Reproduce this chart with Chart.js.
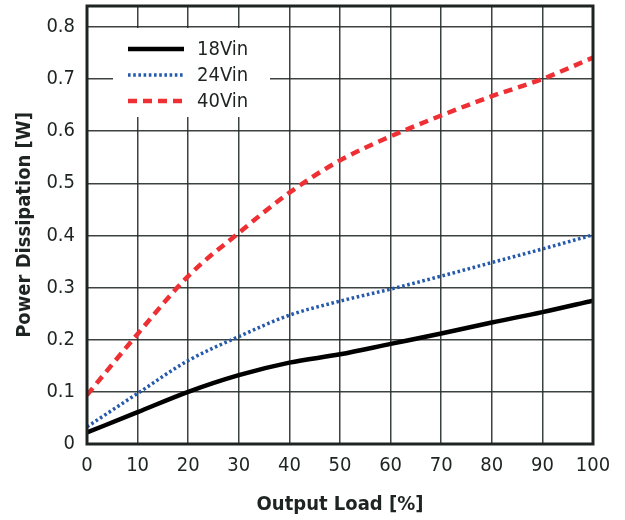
<!DOCTYPE html>
<html>
<head>
<meta charset="utf-8">
<script src="https://cdn.jsdelivr.net/npm/chart.js@4.4.1/dist/chart.umd.min.js"></script>
<style>
  html, body { margin: 0; padding: 0; background: #fff; }
  #wrap { width: 625px; height: 520px; }
</style>
</head>
<body>
<div id="wrap"><canvas id="pdChart" width="625" height="520"></canvas></div>
<script>
// Data
const loadPct = [0, 10, 20, 30, 40, 50, 60, 70, 80, 90, 100];
const vin18 = [0.022, 0.061, 0.100, 0.132, 0.156, 0.172, 0.192, 0.212, 0.233, 0.253, 0.275];
const vin24 = [0.033, 0.097, 0.160, 0.206, 0.247, 0.274, 0.297, 0.322, 0.348, 0.374, 0.401];
const vin40 = [0.094, 0.211, 0.322, 0.405, 0.482, 0.544, 0.590, 0.630, 0.667, 0.700, 0.741];
const seriesNames = ['18Vin', '24Vin', '40Vin'];
const yTicks = [0, 0.1, 0.2, 0.3, 0.4, 0.5, 0.6, 0.7, 0.8];
const xTicks = [0, 10, 20, 30, 40, 50, 60, 70, 80, 90, 100];

const FONT = "'Liberation Sans Narrow', 'DejaVu Sans Condensed', 'Liberation Sans', sans-serif";
const inkColor = '#1e2421';

function toPoints(ys) {
    return loadPct.map((x, i) => ({ x: x, y: ys[i] }));
}

// Legend inside the plot with a white box, plus the dark frame
const framePlugin = {
    id: 'frameAndLegend',
    afterDatasetsDraw(chart) {
        const ctx = chart.ctx;
        const area = chart.chartArea;
        ctx.save();

        // legend box
        const bx = area.left + 26, by = area.top + 22;
        ctx.fillStyle = '#fff';
        ctx.fillRect(bx, by, 157, 89);
        ctx.font = '20px ' + FONT;
        ctx.textBaseline = 'middle';
        chart.data.datasets.forEach((ds, i) => {
            const y = area.top + 43 + i * 26;
            ctx.strokeStyle = ds.borderColor;
            ctx.lineWidth = ds.borderWidth;
            ctx.setLineDash(ds.borderDash || []);
            ctx.beginPath();
            ctx.moveTo(area.left + 41, y);
            ctx.lineTo(area.left + 97, y);
            ctx.stroke();
            ctx.setLineDash([]);
            ctx.fillStyle = inkColor;
            ctx.fillText(ds.label, area.left + 110, y + 1);
        });

        // frame
        ctx.strokeStyle = inkColor;
        ctx.lineWidth = 3;
        ctx.strokeRect(area.left, area.top, area.right - area.left, area.bottom - area.top);
        ctx.restore();
    }
};

const ctx = document.getElementById('pdChart').getContext('2d');
const pdChart = new Chart(ctx, {
    type: 'line',
    data: {
        datasets: [{
            label: seriesNames[0],
            data: toPoints(vin18),
            borderColor: '#000000',
            borderWidth: 4.5,
            pointRadius: 0,
            cubicInterpolationMode: 'monotone'
        }, {
            label: seriesNames[1],
            data: toPoints(vin24),
            borderColor: '#2459ab',
            borderWidth: 3.5,
            borderDash: [2.6, 2.6],
            pointRadius: 0,
            cubicInterpolationMode: 'monotone'
        }, {
            label: seriesNames[2],
            data: toPoints(vin40),
            borderColor: '#ee2f33',
            borderWidth: 4.5,
            borderDash: [9, 6],
            pointRadius: 0,
            cubicInterpolationMode: 'monotone'
        }]
    },
    options: {
        responsive: false,
        animation: false,
        layout: { padding: { top: 6, right: 32, left: 0, bottom: 0 } },
        plugins: {
            legend: { display: false },
            tooltip: { enabled: false }
        },
        scales: {
            x: {
                type: 'linear',
                min: 0,
                max: 100,
                afterBuildTicks: (scale) => { scale.ticks = xTicks.map(v => ({ value: v })); },
                afterFit: (scale) => {
                    scale.height = 76;
                    scale.paddingLeft = 0;
                    scale.paddingRight = 0;
                },
                grid: { color: 'rgba(38,46,42,0.9)', lineWidth: 1.5, drawTicks: false },
                border: { display: false },
                ticks: {
                    padding: 10,
                    color: inkColor,
                    font: { family: FONT, size: 20 },
                    maxRotation: 0
                },
                title: {
                    display: true,
                    text: 'Output Load [%]',
                    color: inkColor,
                    font: { family: FONT, size: 20, weight: 'bold' },
                    padding: { top: 0, bottom: 3 }
                }
            },
            y: {
                min: 0,
                max: 0.84,
                afterBuildTicks: (scale) => { scale.ticks = yTicks.map(v => ({ value: v })); },
                afterFit: (scale) => {
                    scale.width = 87;
                    scale.paddingTop = 0;
                    scale.paddingBottom = 0;
                },
                grid: { color: 'rgba(38,46,42,0.9)', lineWidth: 1.5, drawTicks: false },
                border: { display: false },
                ticks: {
                    padding: 12,
                    color: inkColor,
                    font: { family: FONT, size: 20 },
                    callback: (v) => v === 0 ? '0' : v.toFixed(1)
                },
                title: {
                    display: true,
                    text: 'Power Dissipation [W]',
                    color: inkColor,
                    font: { family: FONT, size: 20, weight: 'bold' },
                    padding: { top: 13, bottom: 0 }
                }
            }
        }
    },
    plugins: [framePlugin]
});
</script>
</body>
</html>
